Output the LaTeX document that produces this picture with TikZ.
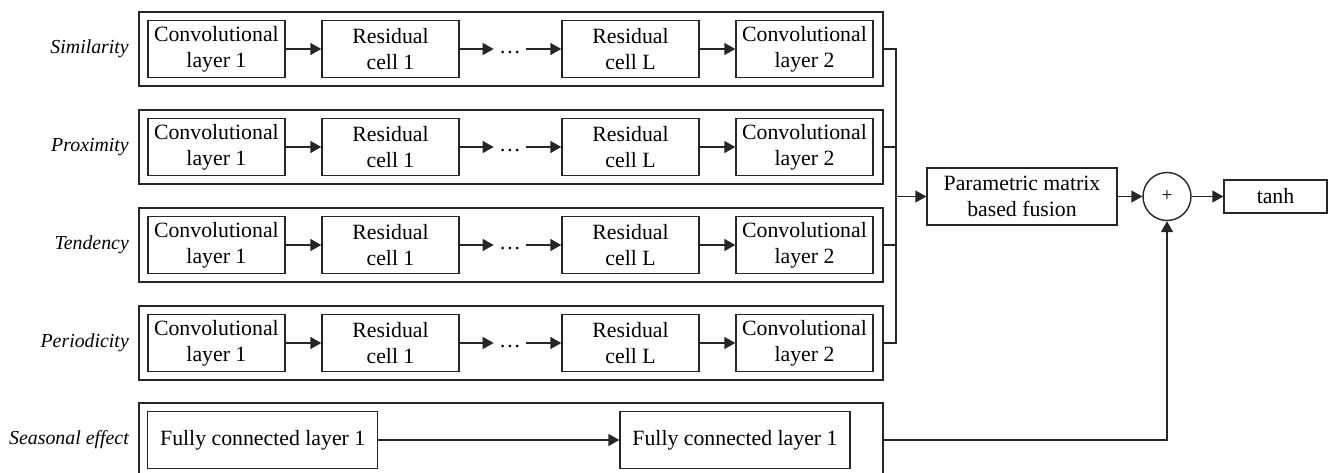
\documentclass[tikz,border=0pt]{standalone}
\usepackage{fontspec}
\setmainfont{Liberation Serif}
\usetikzlibrary{arrows.meta}

\begin{document}
\begin{tikzpicture}[
    x=0.02cm, y=-0.02cm,
    every node/.style={font=\fontsize{12.4}{14.6}\selectfont, align=center, text=black},
    frame/.style={rectangle, draw=black!85, line width=0.8pt, minimum width=14.88cm, minimum height=1.48cm, inner sep=0pt},
    box/.style={rectangle, draw=black!85, line width=0.8pt, minimum width=2.74cm, minimum height=1.14cm, inner sep=0pt},
    lab/.style={anchor=east, font=\fontsize{11.3}{14}\selectfont\itshape},
    dots/.style={minimum width=0.64cm, text height=5pt, text depth=0pt, inner sep=0pt},
    ln/.style={line width=0.8pt, black!85},
    arr/.style={-{Triangle[length=0.22cm,width=0.24cm]}, line width=0.8pt, black!85}
]
\useasboundingbox (0,0) rectangle (1332,473);

% Similarity
\node[frame] (simf) at (511, 49) {};
\node[lab]   (siml) at (135, 49) {Similarity};
\node[box]   (simc1) at (216.4, 49) {Convolutional\\layer 1};
\node[box]   (simr1) at (390.5, 49) {Residual\\cell 1};
\node[dots]  (simd)  at (510, 49)   {\dots};
\node[box]   (simrl) at (630.5, 49) {Residual\\cell L};
\node[box]   (simc2) at (804.5, 49) {Convolutional\\layer 2};
\draw[arr] (simc1) -- (simr1);
\draw[arr] (simr1) -- (simd);
\draw[arr] (simd)  -- (simrl);
\draw[arr] (simrl) -- (simc2);

% Proximity
\node[frame] (prof) at (511, 147) {};
\node[lab]   (prol) at (135, 147) {Proximity};
\node[box]   (proc1) at (216.4, 147) {Convolutional\\layer 1};
\node[box]   (pror1) at (390.5, 147) {Residual\\cell 1};
\node[dots]  (prod)  at (510, 147)   {\dots};
\node[box]   (prorl) at (630.5, 147) {Residual\\cell L};
\node[box]   (proc2) at (804.5, 147) {Convolutional\\layer 2};
\draw[arr] (proc1) -- (pror1);
\draw[arr] (pror1) -- (prod);
\draw[arr] (prod)  -- (prorl);
\draw[arr] (prorl) -- (proc2);

% Tendency
\node[frame] (tenf) at (511, 245) {};
\node[lab]   (tenl) at (135, 245) {Tendency};
\node[box]   (tenc1) at (216.4, 245) {Convolutional\\layer 1};
\node[box]   (tenr1) at (390.5, 245) {Residual\\cell 1};
\node[dots]  (tend)  at (510, 245)   {\dots};
\node[box]   (tenrl) at (630.5, 245) {Residual\\cell L};
\node[box]   (tenc2) at (804.5, 245) {Convolutional\\layer 2};
\draw[arr] (tenc1) -- (tenr1);
\draw[arr] (tenr1) -- (tend);
\draw[arr] (tend)  -- (tenrl);
\draw[arr] (tenrl) -- (tenc2);

% Periodicity
\node[frame] (perf) at (511, 343) {};
\node[lab]   (perl) at (135, 343) {Periodicity};
\node[box]   (perc1) at (216.4, 343) {Convolutional\\layer 1};
\node[box]   (perr1) at (390.5, 343) {Residual\\cell 1};
\node[dots]  (perd)  at (510, 343)   {\dots};
\node[box]   (perrl) at (630.5, 343) {Residual\\cell L};
\node[box]   (perc2) at (804.5, 343) {Convolutional\\layer 2};
\draw[arr] (perc1) -- (perr1);
\draw[arr] (perr1) -- (perd);
\draw[arr] (perd)  -- (perrl);
\draw[arr] (perrl) -- (perc2);

% Seasonal effect
\node[frame] (seaf) at (511, 440) {};
\node[lab]   (seal) at (135, 440) {Seasonal effect};
\node[box, minimum width=4.6cm] (fc1) at (262.7, 440) {Fully connected layer 1};
\node[box, minimum width=4.6cm] (fc2) at (735, 440)   {Fully connected layer 1};
\draw[arr] (fc1) -- (fc2);

% fusion and output
\coordinate (bus) at (896, 196.5);
\node[box, minimum width=3.8cm] (fusion) at (1022, 196.5) {Parametric matrix\\based fusion};
\node[circle, draw=black!85, line width=0.8pt, minimum size=0.96cm, inner sep=0pt, font=\fontsize{11}{12}\selectfont] (plus) at (1167, 196.5) {+};
\node[box, minimum width=2.06cm, minimum height=0.66cm] (tanh) at (1275.5, 196.5) {tanh};

\draw[ln] (simf.east) -| (bus);
\draw[ln] (prof.east) -| (bus);
\draw[ln] (tenf.east) -| (bus);
\draw[ln] (perf.east) -| (bus);
\draw[arr] (bus) -- (fusion);
\draw[arr] (fusion) -- (plus);
\draw[arr] (plus) -- (tanh);
\draw[arr] (seaf.east) -| (plus.south);
\end{tikzpicture}
\end{document}
